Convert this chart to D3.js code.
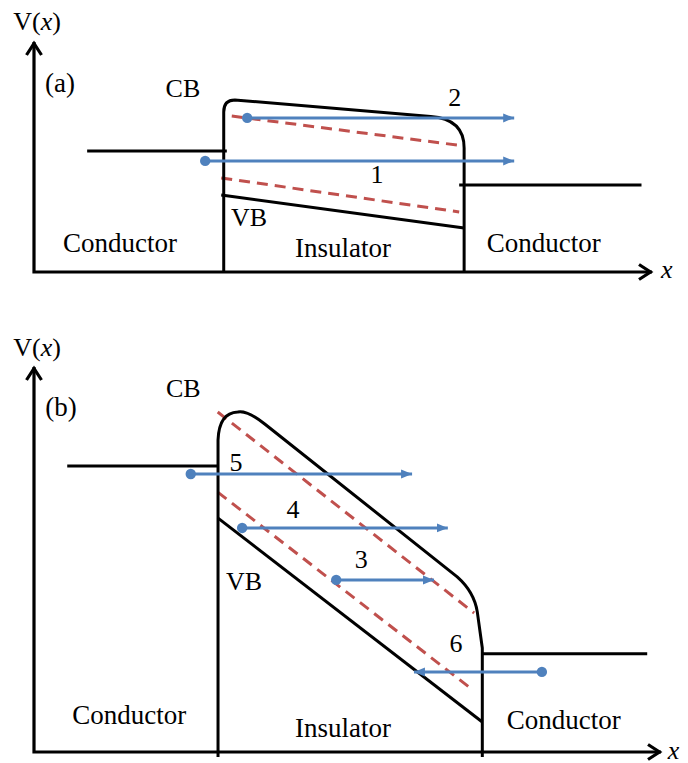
<!DOCTYPE html>
<html><head><meta charset="utf-8">
<script src="https://cdn.jsdelivr.net/npm/d3@7"></script>
<style>
html,body{margin:0;padding:0;background:#fff;}
</style></head>
<body>
<svg id="c" width="688" height="763"></svg>
<script>
// ---------- DATA (diagram units: x 0..10 along axis, V 0..10 up the axis) ----------
const panelNames = ["(a)", "(b)"];
const regionLabels = ["Conductor", "Insulator", "Conductor"];
const bandLabels = ["CB", "VB"];

// Panel (a)
const metalLeftA  = [[0.86, 5.26], [3.12, 5.26]];
const metalRightA = [[6.88, 3.78], [9.83, 3.78]];
// conduction-band outline; c:1 marks a curve control point
const cbA = [
  {x: 3.07, v: 0}, {x: 3.07, v: 6.96}, {x: 3.07, v: 7.48, c: 1}, {x: 3.25, v: 7.48},
  {x: 6.42, v: 6.76}, {x: 6.96, v: 6.65, c: 1}, {x: 6.96, v: 5.39}, {x: 6.96, v: 0}
];
const vbA = [[3.03, 3.35], [6.96, 1.91]];
const dashA = [[[3.20, 6.78], [6.96, 5.48]], [[3.03, 4.09], [6.88, 2.61]]];
const arrowsA = [ // from (dot) -> to (tip), label
  {id: "2", x0: 3.45, x1: 7.77, v: 6.70, lx: 6.81, lv: 7.57},
  {id: "1", x0: 2.77, x1: 7.77, v: 4.83, lx: 5.55, lv: 4.22}
];
const textA = {name: [0.42, 8.22], cb: [2.41, 8.0], vb: [3.48, 2.39],
  regions: [[1.39, 1.26], [5.0, 1.04], [8.25, 1.26]], vlab: [0.05, 10.9], xlab: [10.24, 0.1]};

// Panel (b)
const metalLeftB  = [[0.53, 7.43], [2.93, 7.43]];
const metalRightB = [[7.15, 2.55], [9.78, 2.55]];
const cbB = [
  {x: 2.935, v: -0.13}, {x: 2.935, v: 8.10}, {x: 2.95, v: 8.81, c: 1}, {x: 3.25, v: 8.83},
  {x: 3.40, v: 8.88, c: 1}, {x: 3.68, v: 8.52}, {x: 6.75, v: 4.55},
  {x: 7.02, v: 4.16, c: 1}, {x: 7.07, v: 3.64}, {x: 7.15, v: 2.70}, {x: 7.15, v: -0.13}
];
const vbB = [[2.93, 6.08], [7.15, 0.78]];
const dashB = [[[2.93, 8.83], [7.02, 3.61]], [[2.93, 6.75], [7.00, 1.61]]];
const arrowsB = [
  {id: "5", x0: 2.50, x1: 6.03, v: 7.22, lx: 3.22, lv: 7.53},
  {id: "4", x0: 3.32, x1: 6.60, v: 5.82, lx: 4.13, lv: 6.29},
  {id: "3", x0: 4.82, x1: 6.38, v: 4.47, lx: 5.22, lv: 5.01},
  {id: "6", x0: 8.10, x1: 6.06, v: 2.08, lx: 6.73, lv: 2.83}
];
const textB = {name: [0.43, 8.96], cb: [2.38, 9.45], vb: [3.35, 4.42],
  regions: [[1.52, 0.96], [4.93, 0.62], [8.45, 0.83]], vlab: [0.05, 10.52], xlab: [10.2, 0.05]};

// ---------- DRAW ----------
const svg = d3.select("#c");
const BLUE = "#4F81BD", RED = "#C0504D";
const FS = 26, FS_BIG = 27;
const FONT = "'Liberation Serif', 'Times New Roman', serif";

const defs = svg.append("defs");
defs.append("marker").attr("id", "bluehead")
  .attr("markerUnits", "userSpaceOnUse").attr("markerWidth", 12).attr("markerHeight", 10)
  .attr("refX", 11).attr("refY", 5).attr("orient", "auto")
  .append("path").attr("d", "M0,0.5 L11,5 L0,9.5 Z").attr("fill", BLUE);

function label(g, x, y, s, fs) {
  return g.append("text").attr("x", x).attr("y", y)
    .attr("text-anchor", "middle").attr("dominant-baseline", "central")
    .style("font-family", FONT)
    .attr("font-size", fs || FS).attr("fill", "#000").text(s);
}

function drawPanel(cfg) {
  const xs = d3.scaleLinear().domain([0, 10]).range(cfg.xr);
  const ys = d3.scaleLinear().domain([0, 10]).range(cfg.yr);
  const g = svg.append("g");
  const line = d3.line().x(d => xs(d[0])).y(d => ys(d[1]));

  // axes
  const ox = xs(0), oy = ys(0), tx = xs(10), ty = ys(10);
  g.append("path").attr("d", `M${ox},${ty} L${ox},${oy} L${tx},${oy}`)
    .attr("fill", "none").attr("stroke", "#000").attr("stroke-width", 3.2);
  g.append("path").attr("d", `M${ox - 7.5},${ty + 13} L${ox},${ty + 1.5} L${ox + 7.5},${ty + 13}`)
    .attr("fill", "none").attr("stroke", "#000").attr("stroke-width", 3.2);
  g.append("path").attr("d", `M${tx - 13},${oy - 7.5} L${tx - 1.5},${oy} L${tx - 13},${oy + 7.5}`)
    .attr("fill", "none").attr("stroke", "#000").attr("stroke-width", 3.2);

  // metal Fermi levels
  [cfg.ml, cfg.mr].forEach(m => g.append("path").attr("d", line(m))
    .attr("fill", "none").attr("stroke", "#000").attr("stroke-width", 3));

  // dashed lines
  cfg.dash.forEach(d => g.append("path").attr("d", line(d))
    .attr("fill", "none").attr("stroke", RED).attr("stroke-width", 3)
    .attr("stroke-dasharray", "11,7"));

  // CB outline
  const p = d3.path();
  const pts = cfg.cb;
  p.moveTo(xs(pts[0].x), ys(pts[0].v));
  for (let i = 1; i < pts.length; i++) {
    const q = pts[i];
    if (q.c) {
      const n = pts[i + 1];
      p.quadraticCurveTo(xs(q.x), ys(q.v), xs(n.x), ys(n.v));
      i++;
    } else p.lineTo(xs(q.x), ys(q.v));
  }
  g.append("path").attr("d", p.toString()).attr("fill", "none")
    .attr("stroke", "#000").attr("stroke-width", 3).attr("stroke-linejoin", "round");

  // VB
  g.append("path").attr("d", line(cfg.vb)).attr("fill", "none")
    .attr("stroke", "#000").attr("stroke-width", 3);

  // blue arrows
  cfg.arrows.forEach(a => {
    g.append("line").attr("x1", xs(a.x0)).attr("x2", xs(a.x1))
      .attr("y1", ys(a.v)).attr("y2", ys(a.v))
      .attr("stroke", BLUE).attr("stroke-width", 3).attr("marker-end", "url(#bluehead)");
    g.append("circle").attr("cx", xs(a.x0)).attr("cy", ys(a.v)).attr("r", 5.2).attr("fill", BLUE);
    label(g, xs(a.lx), ys(a.lv), a.id);
  });

  // texts
  const t = cfg.text;
  const txt = (pos, s, fs) => label(g, xs(pos[0]), ys(pos[1]), s, fs);
  txt(t.name, cfg.name, FS_BIG);
  txt(t.cb, bandLabels[0]);
  txt(t.vb, bandLabels[1]);
  t.regions.forEach((r, i) => txt(r, regionLabels[i], FS_BIG));
  const vl = label(g, xs(t.vlab[0]), ys(t.vlab[1]), null);
  vl.append("tspan").text("V(");
  vl.append("tspan").attr("font-style", "italic").text("x");
  vl.append("tspan").text(")");
  label(g, xs(t.xlab[0]), ys(t.xlab[1]), "x").attr("font-style", "italic");
}

drawPanel({name: panelNames[0], xr: [34, 652], yr: [272, 42], ml: metalLeftA, mr: metalRightA,
  cb: cbA, vb: vbA, dash: dashA, arrows: arrowsA, text: textA});
drawPanel({name: panelNames[1], xr: [34, 661], yr: [752, 367], ml: metalLeftB, mr: metalRightB,
  cb: cbB, vb: vbB, dash: dashB, arrows: arrowsB, text: textB});
</script>
</body></html>
